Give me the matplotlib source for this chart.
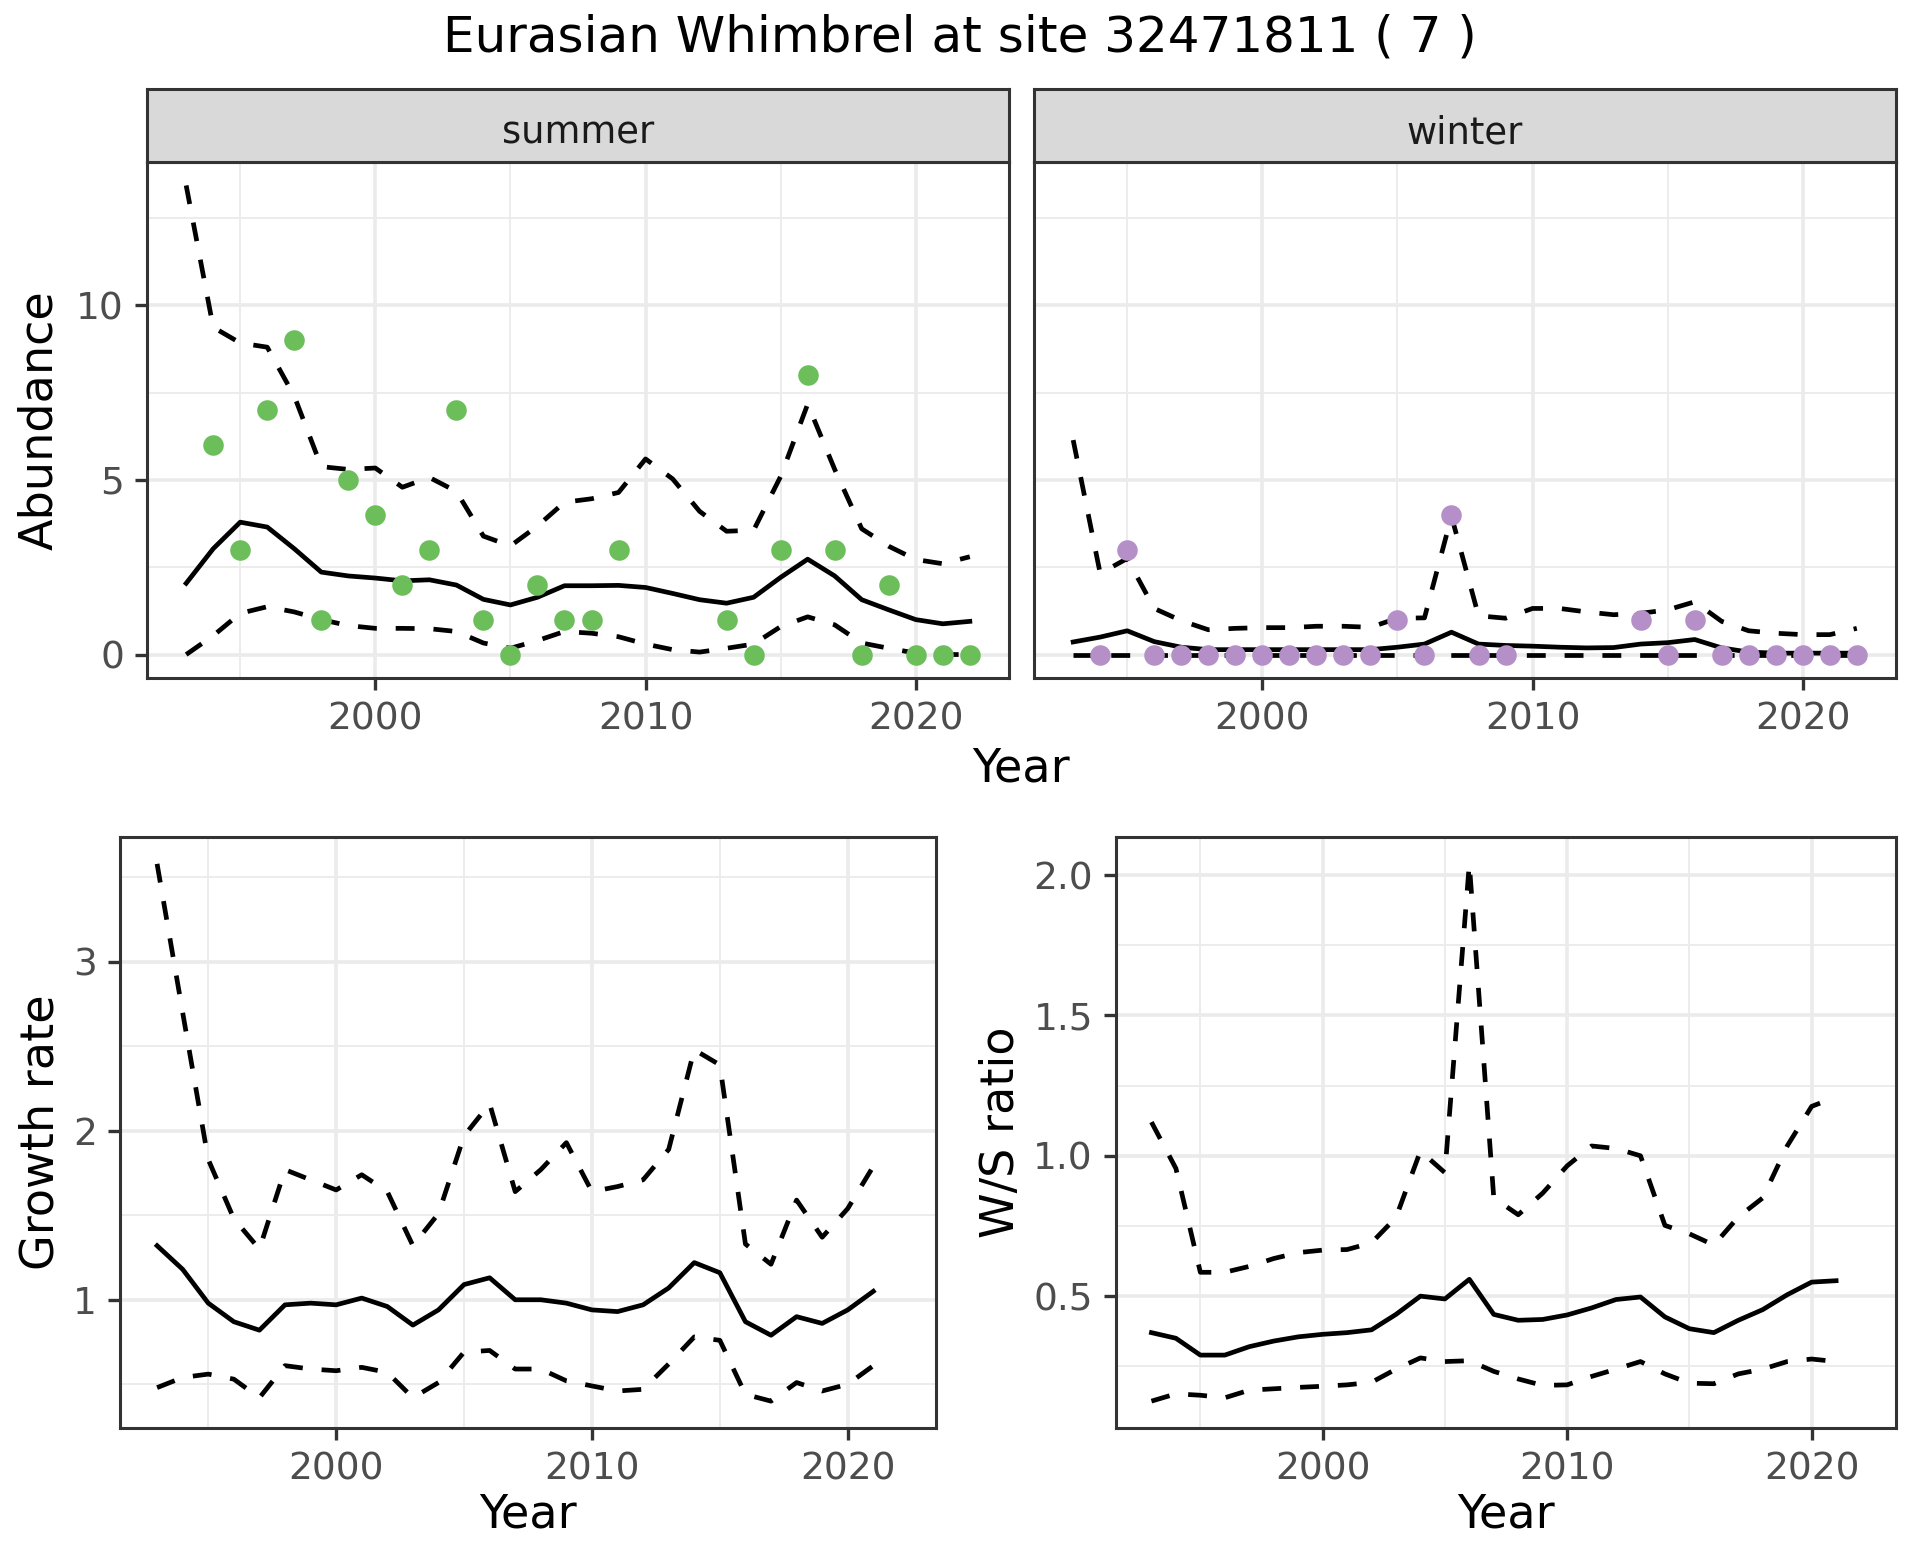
import numpy as np
import matplotlib
matplotlib.use("Agg")
import matplotlib.pyplot as plt

# ---- data ----
years = list(range(1993, 2023))          # 1993..2022
years_gr = list(range(1993, 2022))       # 1993..2021

summer_mean = [2.04, 3.03, 3.79, 3.65, 3.03, 2.36, 2.25, 2.19, 2.11, 2.14,
               1.99, 1.58, 1.42, 1.64, 1.97, 1.97, 1.98, 1.92, 1.75, 1.57,
               1.47, 1.64, 2.21, 2.73, 2.25, 1.57, 1.28, 1.00, 0.88, 0.95]
summer_upper = [13.43, 9.37, 8.92, 8.80, 7.40, 5.38, 5.30, 5.34, 4.79, 5.07,
                4.67, 3.39, 3.11, 3.68, 4.36, 4.46, 4.64, 5.60, 5.03, 4.10,
                3.53, 3.56, 5.10, 7.17, 5.30, 3.60, 3.10, 2.72, 2.60, 2.80]
summer_lower = [0.00, 0.54, 1.18, 1.37, 1.22, 1.00, 0.83, 0.75, 0.75, 0.74,
                0.66, 0.33, 0.18, 0.40, 0.66, 0.61, 0.51, 0.30, 0.14, 0.07,
                0.18, 0.30, 0.80, 1.08, 0.85, 0.33, 0.18, 0.04, 0.00, 0.00]
summer_obs_years = [1994, 1995, 1996, 1997, 1998, 1999, 2000, 2001, 2002, 2003,
                    2004, 2005, 2006, 2007, 2008, 2009, 2013, 2014, 2015, 2016,
                    2017, 2018, 2019, 2020, 2021, 2022]
summer_obs = [6, 3, 7, 9, 1, 5, 4, 2, 3, 7, 1, 0, 2, 1, 1, 3, 1, 0, 3, 8,
              3, 0, 2, 0, 0, 0]

winter_mean = [0.36, 0.50, 0.68, 0.37, 0.21, 0.14, 0.14, 0.14, 0.14, 0.14,
               0.14, 0.14, 0.21, 0.30, 0.64, 0.30, 0.26, 0.24, 0.21, 0.19,
               0.20, 0.30, 0.34, 0.43, 0.19, 0.07, 0.04, 0.04, 0.04, 0.04]
winter_upper = [6.14, 2.32, 2.75, 1.32, 0.97, 0.71, 0.75, 0.77, 0.77, 0.81,
                0.81, 0.78, 1.04, 1.05, 3.96, 1.11, 1.04, 1.32, 1.32, 1.22,
                1.14, 1.18, 1.28, 1.51, 0.95, 0.68, 0.61, 0.57, 0.57, 0.75]
winter_lower = [0.0] * 30
winter_obs_years = [1994, 1995, 1996, 1997, 1998, 1999, 2000, 2001, 2002, 2003,
                    2004, 2005, 2006, 2007, 2008, 2009, 2014, 2015, 2016, 2017,
                    2018, 2019, 2020, 2021, 2022]
winter_obs = [0, 3, 0, 0, 0, 0, 0, 0, 0, 0, 0, 1, 0, 4, 0, 0, 1, 0, 1, 0,
              0, 0, 0, 0, 0]

growth_mean = [1.32, 1.18, 0.98, 0.87, 0.82, 0.97, 0.98, 0.97, 1.01, 0.96,
               0.85, 0.94, 1.09, 1.13, 1.00, 1.00, 0.98, 0.94, 0.93, 0.97,
               1.07, 1.22, 1.16, 0.87, 0.79, 0.90, 0.86, 0.94, 1.05]
growth_upper = [3.58, 2.70, 1.83, 1.48, 1.30, 1.77, 1.71, 1.65, 1.74, 1.64,
                1.32, 1.51, 1.97, 2.16, 1.64, 1.77, 1.93, 1.64, 1.67, 1.71,
                1.89, 2.48, 2.39, 1.33, 1.21, 1.59, 1.37, 1.54, 1.79]
growth_lower = [0.48, 0.54, 0.56, 0.53, 0.42, 0.61, 0.59, 0.58, 0.60, 0.57,
                0.42, 0.51, 0.69, 0.70, 0.59, 0.59, 0.52, 0.49, 0.46, 0.47,
                0.62, 0.78, 0.76, 0.44, 0.40, 0.51, 0.46, 0.50, 0.61]

ws_mean = [0.37, 0.35, 0.29, 0.29, 0.32, 0.34, 0.355, 0.364, 0.37, 0.38,
           0.435, 0.50, 0.49, 0.56, 0.435, 0.414, 0.417, 0.433, 0.458, 0.488,
           0.497, 0.426, 0.384, 0.37, 0.414, 0.452, 0.505, 0.55, 0.555]
ws_upper = [1.12, 0.955, 0.585, 0.585, 0.606, 0.634, 0.655, 0.664, 0.666, 0.69,
            0.78, 1.017, 0.94, 2.04, 0.85, 0.79, 0.867, 0.964, 1.035, 1.026,
            1.00, 0.752, 0.722, 0.682, 0.782, 0.85, 1.035, 1.176, 1.21]
ws_lower = [0.126, 0.152, 0.147, 0.138, 0.165, 0.17, 0.175, 0.179, 0.184, 0.193,
            0.24, 0.28, 0.267, 0.27, 0.232, 0.205, 0.182, 0.184, 0.214, 0.24,
            0.267, 0.223, 0.19, 0.188, 0.223, 0.24, 0.267, 0.276, 0.267]

title = "Eurasian Whimbrel at site 32471811 ( 7 )"
green = "#6CBE5B"
purple = "#B58FC7"

W, H = 1920, 1560
fig = plt.figure(figsize=(W / 200, H / 200), dpi=200)
fig.patch.set_facecolor("white")

TICK_SIZE = 13.5
LAB_SIZE = 16.6


def px_axes(x0, y0, x1, y1):
    """axes from pixel box (top-left origin)"""
    return fig.add_axes([x0 / W, 1 - y1 / H, (x1 - x0) / W, (y1 - y0) / H])


def expand(*series):
    vals = np.concatenate([np.asarray(s, float) for s in series])
    lo, hi = vals.min(), vals.max()
    r = hi - lo
    return lo - 0.05 * r, hi + 0.05 * r


def style_panel(ax, yticks, yminor, ylim, show_y=True):
    for s in ax.spines.values():
        s.set_color("#333333")
        s.set_linewidth(1.1)
    ax.set_xlim(1991.55, 2023.45)
    ax.set_ylim(*ylim)
    ax.set_xticks([2000, 2010, 2020])
    ax.set_xticks([1995, 2005, 2015], minor=True)
    ax.set_yticks(yticks)
    ax.set_yticks(yminor, minor=True)
    ax.grid(which="major", color="#EBEBEB", lw=1.3)
    ax.grid(which="minor", color="#EBEBEB", lw=0.65)
    ax.set_axisbelow(True)
    ax.tick_params(which="major", length=4.3, width=1.2, color="#333333",
                   labelsize=TICK_SIZE, labelcolor="#4D4D4D", pad=4)
    ax.tick_params(which="minor", length=0)
    if not show_y:
        ax.tick_params(axis="y", which="both", length=0, labelleft=False)


def draw_band(ax, x, mean, upper, lower):
    ax.plot(x, mean, color="black", lw=1.7, zorder=2)
    ax.plot(x, upper, color="black", lw=1.7, ls=(0, (4, 4)), zorder=2)
    ax.plot(x, lower, color="black", lw=1.7, ls=(0, (4, 4)), zorder=2)


def strip(x0, x1, label):
    sax = px_axes(x0, 89, x1, 162)
    sax.set_facecolor("#D9D9D9")
    sax.set_xticks([])
    sax.set_yticks([])
    for s in sax.spines.values():
        s.set_color("#333333")
        s.set_linewidth(1.1)
    sax.text(0.5, 0.45, label, ha="center", va="center_baseline", fontsize=13.3,
             color="#1A1A1A", transform=sax.transAxes)


# ---- top row: abundance facets ----
abund_lim = expand(summer_mean, summer_upper, summer_lower, summer_obs,
                   winter_mean, winter_upper, winter_lower, winter_obs)

ax_s = px_axes(147, 162, 1009, 678)
draw_band(ax_s, years, summer_mean, summer_upper, summer_lower)
ax_s.plot(summer_obs_years, summer_obs, "o", color=green, ms=7.4, mew=0, zorder=3)
style_panel(ax_s, [0, 5, 10], [2.5, 7.5, 12.5], abund_lim)
strip(147, 1009, "summer")

ax_w = px_axes(1034, 162, 1896, 678)
draw_band(ax_w, years, winter_mean, winter_upper, winter_lower)
ax_w.plot(winter_obs_years, winter_obs, "o", color=purple, ms=7.4, mew=0, zorder=3)
style_panel(ax_w, [0, 5, 10], [2.5, 7.5, 12.5], abund_lim, show_y=False)
strip(1034, 1896, "winter")

# ---- bottom row ----
ax_g = px_axes(120, 837, 936, 1428)
draw_band(ax_g, years_gr, growth_mean, growth_upper, growth_lower)
style_panel(ax_g, [1, 2, 3], [0.5, 1.5, 2.5, 3.5],
            expand(growth_mean, growth_upper, growth_lower))

ax_r = px_axes(1116, 837, 1896, 1428)
draw_band(ax_r, years_gr, ws_mean, ws_upper, ws_lower)
style_panel(ax_r, [0.5, 1.0, 1.5, 2.0], [0.25, 0.75, 1.25, 1.75],
            expand(ws_mean, ws_upper, ws_lower))

# ---- titles and axis labels ----
fig.text(960 / W, 1 - 51 / H, title, ha="center", va="baseline", fontsize=18)
lab = dict(fontsize=LAB_SIZE, color="black")
fig.text(1021 / W, 1 - 782 / H, "Year", ha="center", va="baseline", **lab)
fig.text(528 / W, 1 - 1528 / H, "Year", ha="center", va="baseline", **lab)
fig.text(1506 / W, 1 - 1528 / H, "Year", ha="center", va="baseline", **lab)
fig.text(40 / W, 1 - 420 / H, "Abundance", ha="center", va="center",
         rotation=90, **lab)
fig.text(41 / W, 1 - 1132 / H, "Growth rate", ha="center", va="center",
         rotation=90, **lab)
fig.text(1001 / W, 1 - 1132 / H, "W/S ratio", ha="center", va="center",
         rotation=90, **lab)

fig.savefig("out.png", dpi=200, facecolor="white")
